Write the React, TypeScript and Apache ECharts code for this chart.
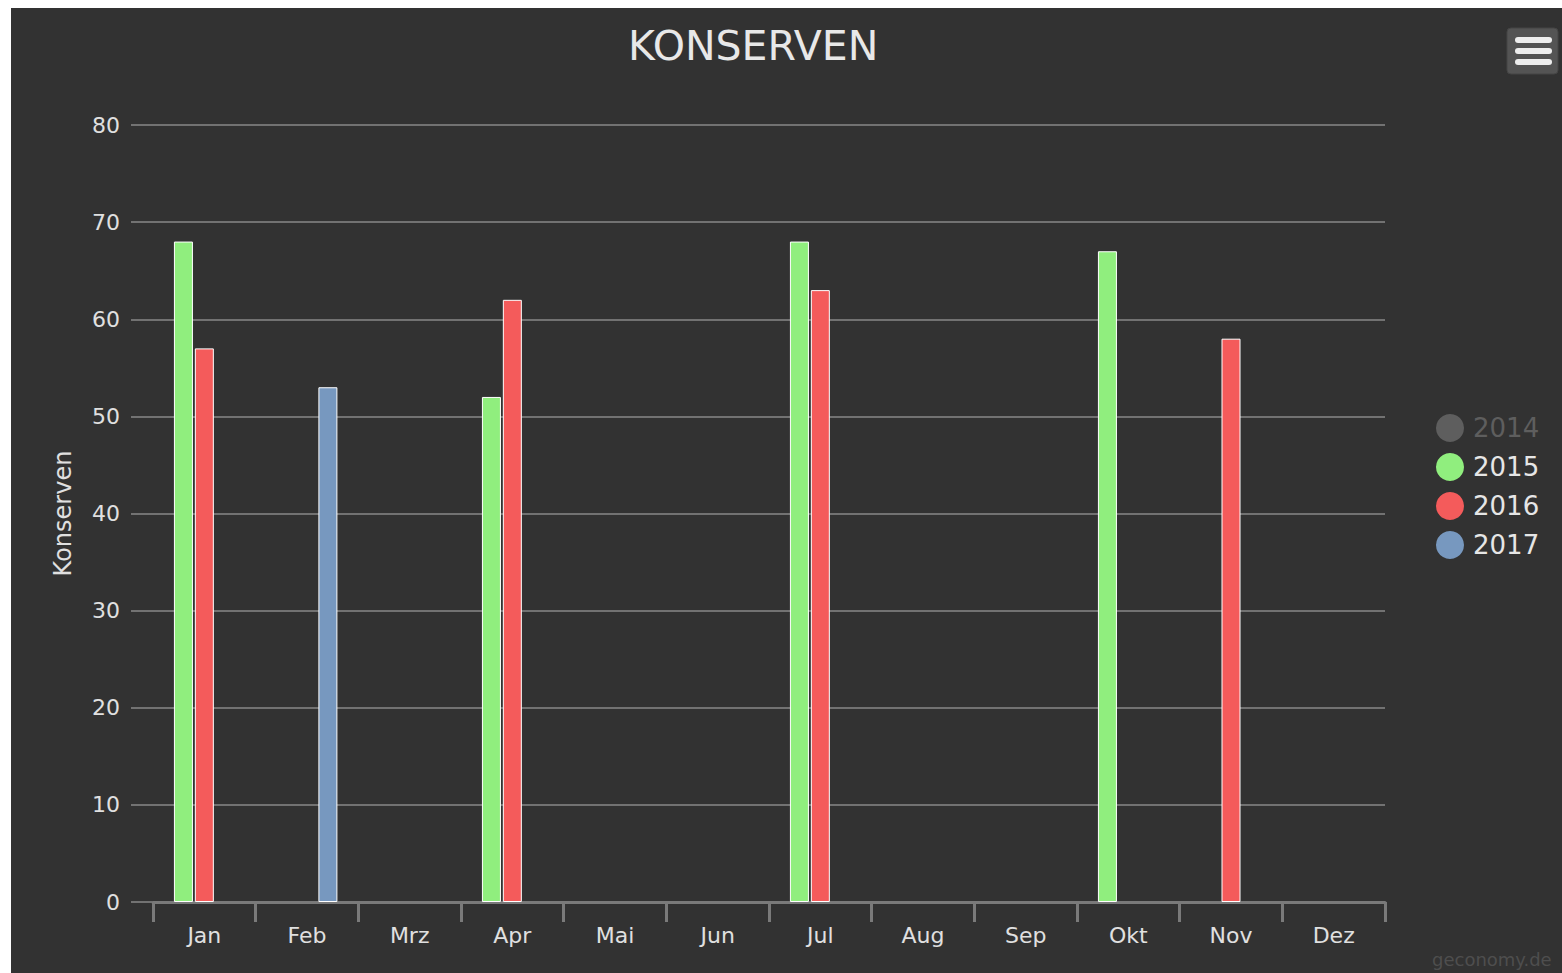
import React, { useEffect, useRef } from "react";
import * as echarts from "echarts";

const months = ["Jan", "Feb", "Mrz", "Apr", "Mai", "Jun", "Jul", "Aug", "Sep", "Okt", "Nov", "Dez"];
const years = ["2014", "2015", "2016", "2017"];
const colors = ["#2b908f", "#90ee7e", "#f45b5b", "#7798bf"];
const v2014: (number | null)[] = [null, null, null, null, null, null, null, null, null, null, null, null];
const v2015: (number | null)[] = [68, null, null, 52, null, null, 68, null, null, 67, null, null];
const v2016: (number | null)[] = [57, null, null, 62, null, null, 63, null, null, null, 58, null];
const v2017: (number | null)[] = [null, 53, null, null, null, null, null, null, null, null, null, null];
const yTicks = { min: 0, max: 80, interval: 10 };

export default function App() {
  const ref = useRef<HTMLDivElement>(null);
  useEffect(() => {
    if (!ref.current) return;
    const chart = echarts.init(ref.current, undefined, { renderer: "svg" });
    const values = [v2014, v2015, v2016, v2017];
    const font = "'DejaVu Sans', 'Open Sans', sans-serif";
    chart.setOption({
      animation: false,
      backgroundColor: "#323232",
      textStyle: { fontFamily: font },
      title: {
        text: "KONSERVEN",
        left: 612,
        top: 12,
        textStyle: { color: "#e8e8e8", fontSize: 41, fontWeight: "normal", fontFamily: font },
      },
      legend: {
        orient: "vertical",
        left: 1420,
        top: 401,
        itemWidth: 28,
        itemHeight: 28,
        itemGap: 11,
        icon: "circle",
        data: years,
        selected: { "2014": false },
        inactiveColor: "#5e5e5e",
        inactiveBorderWidth: 0,
        itemStyle: { borderWidth: 0 },
        textStyle: { color: "#e6e6e6", fontSize: 26, lineHeight: 28, padding: [0, 0, 0, 4], fontFamily: font },
      },
      grid: { left: 142, right: 177, top: 117, bottom: 71, containLabel: false },
      xAxis: {
        type: "category",
        data: months,
        boundaryGap: true,
        axisLine: { show: true, lineStyle: { color: "#7a7a7a", width: 3 } },
        axisTick: { show: true, length: 20, lineStyle: { color: "#7a7a7a", width: 3 } },
        axisLabel: { color: "#e0e0e0", fontSize: 22, margin: 22, fontFamily: font },
      },
      yAxis: {
        type: "value",
        min: yTicks.min,
        max: yTicks.max,
        interval: yTicks.interval,
        name: "Konserven",
        nameLocation: "middle",
        nameGap: 78,
        nameTextStyle: { color: "#e0e0e0", fontSize: 24, fontFamily: font },
        axisLine: { show: false },
        axisTick: { show: true, length: 22, lineStyle: { color: "#727272", width: 2 } },
        axisLabel: { color: "#e0e0e0", fontSize: 22, margin: 33, fontFamily: font },
        splitLine: { show: true, lineStyle: { color: "#727272", width: 2 } },
      },
      series: years.map((y, i) => ({
        name: y,
        type: "bar",
        data: values[i],
        barWidth: 19,
        barGap: "10%",
        itemStyle: { color: colors[i], borderColor: "#ffffff", borderWidth: 1 },
      })),
      graphic: [
        {
          type: "rect",
          shape: { x: 1496, y: 20, width: 51, height: 46, r: 4 },
          style: { fill: "#545454", stroke: "#454545", lineWidth: 1 },
        },
        ...[32, 43, 54].map((yy) => ({
          type: "rect",
          shape: { x: 1504, y: yy - 3, width: 37, height: 6, r: 3 },
          style: { fill: "#eeeeee" },
        })),
        {
          type: "text",
          left: 1421,
          top: 942,
          style: { text: "geconomy.de", fill: "#4e4e4e", font: `18px ${font}` },
        },
      ],
    });
    return () => chart.dispose();
  }, []);
  return (
    <div
      ref={ref}
      style={{ position: "fixed", left: 11, top: 8, width: 1551, height: 965 }}
    />
  );
}
